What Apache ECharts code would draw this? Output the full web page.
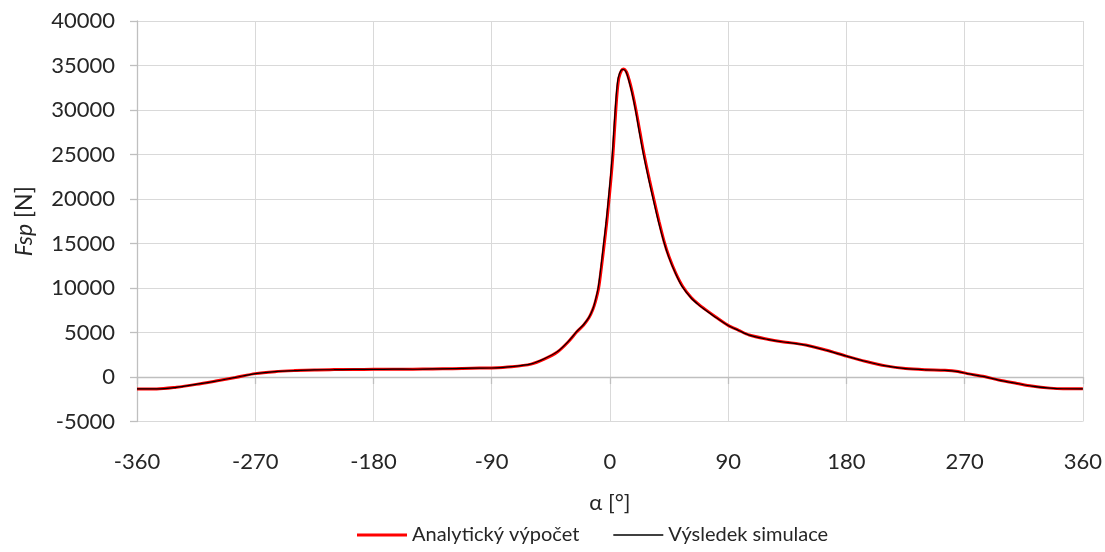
<!DOCTYPE html>
<html>
<head>
<meta charset="utf-8">
<script src="https://cdn.jsdelivr.net/npm/echarts@6/dist/echarts.min.js"></script>
<style>
  html, body { margin: 0; padding: 0; background: #ffffff; }
  #chart { width: 1105px; height: 552px; }
</style>
</head>
<body>
<div id="chart"></div>
<script>
// Crank angle α [°] and force Fsp [N] — analytical calculation
const alphaAnalytic = [-360, -345, -330, -315, -300, -285, -270, -255, -240, -225, -210, -195, -180, -165, -150, -135, -120, -105, -90, -75, -60, -50, -40, -32, -25, -20, -16, -13, -11, -8.6, -6.5, -4.3, -2.5, -1, 0.8, 2.3, 3.3, 4.3, 5.5, 6.8, 8.8, 10.6, 12.5, 14.6, 17, 19.8, 23, 26, 30, 33.7, 37.5, 41.3, 45, 50, 55.3, 62, 68, 72, 80, 90, 98, 106, 120, 131, 149, 165, 180, 195, 210, 225, 240, 255, 265, 272, 285, 296, 310, 321, 335, 345, 360];
const forceAnalytic = [-1350, -1350, -1150, -830, -450, -50, 380, 600, 720, 800, 830, 850, 860, 870, 880, 900, 940, 990, 1020, 1150, 1450, 2000, 2800, 3900, 5100, 5850, 6650, 7600, 8500, 10000, 12300, 15000, 17300, 19500, 22300, 25000, 27300, 29600, 32000, 33600, 34450, 34600, 34300, 33400, 32000, 30000, 27400, 25000, 22200, 19800, 17400, 15200, 13500, 11700, 10200, 8900, 8100, 7650, 6800, 5800, 5250, 4720, 4250, 3970, 3600, 3000, 2350, 1750, 1250, 950, 820, 760, 620, 380, 50, -340, -720, -1010, -1250, -1330, -1330];

// Simulation result
const alphaSim = [-360, -345, -330, -315, -300, -285, -270, -255, -240, -225, -210, -195, -180, -165, -150, -135, -120, -105, -90, -75, -60, -50, -40, -32, -25, -20, -16, -13, -11.3, -9, -6.9, -4.8, -3, -1.5, 0.3, 1.8, 2.8, 3.8, 5, 6.3, 8.4, 10.3, 12.2, 14.2, 16.6, 19.4, 22.5, 25.5, 29.5, 33.2, 37, 41, 44.7, 49.7, 55, 62, 68, 72, 80, 90, 98, 106, 120, 131, 149, 165, 180, 195, 210, 225, 240, 255, 265, 272, 285, 296, 310, 321, 335, 345, 360];
const forceSim = [-1330, -1340, -1160, -820, -460, -40, 370, 610, 710, 810, 820, 860, 850, 880, 870, 910, 930, 1000, 1010, 1160, 1470, 2050, 2850, 3950, 5150, 5900, 6700, 7650, 8500, 10000, 12300, 15000, 17300, 19500, 22300, 25000, 27300, 29600, 32000, 33600, 34450, 34550, 34300, 33400, 32000, 30000, 27400, 25000, 22200, 19800, 17400, 15200, 13500, 11700, 10150, 8850, 8050, 7600, 6750, 5780, 5230, 4700, 4230, 3960, 3580, 2990, 2340, 1740, 1240, 940, 810, 750, 610, 370, 40, -350, -730, -1020, -1250, -1320, -1330];

// Axis ranges and tick spacing
const xTicks = { min: -360, max: 360, interval: 90 };
const yTicks = { min: -5000, max: 40000, interval: 5000 };

const seriesNames = ['Analytický výpočet', 'Výsledek simulace'];

const pairs = (xs, ys) => xs.map((x, i) => [x, ys[i]]);

const FONT = 'Lato, "Noto Sans", sans-serif';
const TEXT = '#262626';

const chart = echarts.init(document.getElementById('chart'), null, { renderer: 'canvas' });

chart.setOption({
  animation: false,
  backgroundColor: '#ffffff',
  textStyle: { fontFamily: FONT, color: TEXT },
  grid: { left: 137, right: 21, top: 21, bottom: 130.5, containLabel: false },
  legend: {
    bottom: 2,
    left: 352,
    itemWidth: 50,
    itemHeight: 14,
    itemGap: 34,
    textStyle: { fontFamily: FONT, fontSize: 20, color: TEXT },
    data: [
      { name: seriesNames[0], icon: 'path://M0,6 L50,6 L50,9 L0,9 Z', itemStyle: { color: '#ff0000' } },
      { name: seriesNames[1], icon: 'path://M0,7 L50,7 L50,8.4 L0,8.4 Z', itemStyle: { color: '#000000' } }
    ]
  },
  xAxis: {
    type: 'value',
    min: xTicks.min,
    max: xTicks.max,
    interval: xTicks.interval,
    name: 'α [°]',
    nameLocation: 'middle',
    nameGap: 70,
    nameTextStyle: { fontFamily: FONT, fontSize: 22, color: TEXT },
    axisLine: { onZero: true, lineStyle: { color: '#bfbfbf', width: 1.3 } },
    axisTick: { show: true, length: 7, lineStyle: { color: '#bfbfbf', width: 1.3 } },
    axisLabel: { margin: 29, fontSize: 22, color: TEXT, fontFamily: FONT },
    splitLine: { show: true, lineStyle: { color: '#d9d9d9', width: 1 } }
  },
  yAxis: {
    type: 'value',
    min: yTicks.min,
    max: yTicks.max,
    interval: yTicks.interval,
    name: '{i|Fsp} [N]',
    nameLocation: 'middle',
    nameGap: 101,
    nameRotate: 90,
    nameTextStyle: {
      fontFamily: FONT, fontSize: 23, color: TEXT,
      rich: { i: { fontFamily: FONT, fontSize: 23, fontStyle: 'italic', color: TEXT } }
    },
    axisLine: { show: true, onZero: false, lineStyle: { color: '#bfbfbf', width: 1.3 } },
    axisTick: { show: true, length: 7, lineStyle: { color: '#bfbfbf', width: 1.3 } },
    axisLabel: { margin: 22, fontSize: 22, color: TEXT, fontFamily: FONT, formatter: v => String(v) },
    splitLine: { show: true, lineStyle: { color: '#d9d9d9', width: 1 } }
  },
  series: [
    {
      name: seriesNames[0],
      type: 'line',
      data: pairs(alphaAnalytic, forceAnalytic),
      symbol: 'none',
      smooth: 0.3,
      lineStyle: { color: '#ff0000', width: 3 },
      itemStyle: { color: '#ff0000' },
      z: 2
    },
    {
      name: seriesNames[1],
      type: 'line',
      data: pairs(alphaSim, forceSim),
      symbol: 'none',
      smooth: 0.3,
      lineStyle: { color: '#000000', width: 1.2 },
      itemStyle: { color: '#000000' },
      z: 3
    }
  ]
});
</script>
</body>
</html>
